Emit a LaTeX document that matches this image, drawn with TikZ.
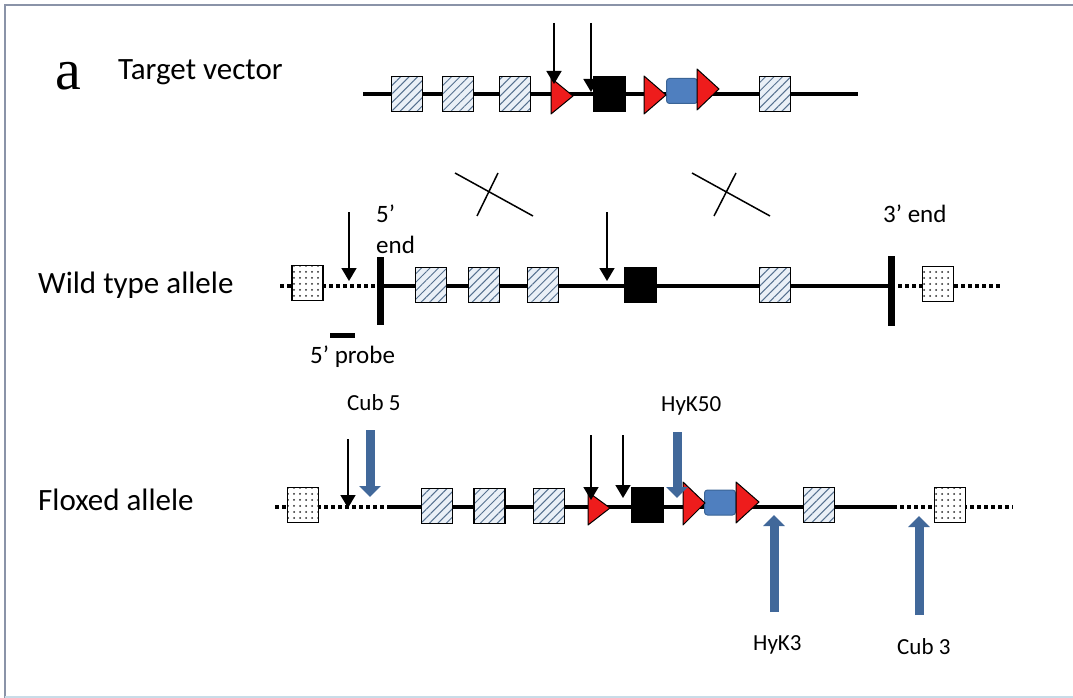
\documentclass[tikz,border=0pt]{standalone}
\usepackage{fontspec}
\setmainfont{Carlito}
\newfontfamily\serifa{Liberation Serif}
\usetikzlibrary{arrows.meta,patterns.meta}
\definecolor{hbg}{HTML}{EAF0F7}
\definecolor{hln}{HTML}{55708F}
\definecolor{arrblue}{HTML}{41689A}
\definecolor{boxblue}{HTML}{4F7FBF}
\definecolor{boxblueb}{HTML}{3A6496}
\definecolor{framec}{HTML}{8A93A8}
\definecolor{framel}{HTML}{C8DCE8}
\definecolor{loxred}{HTML}{EE1C1C}
\begin{document}
\begin{tikzpicture}[x=1pt,y=-1pt,
  hbox/.style={draw, line width=1.2pt, minimum width=31pt, minimum height=35pt, inner sep=0pt,
    preaction={fill=hbg}, pattern={Lines[angle=45,distance=6pt,line width=1pt]}, pattern color=hln},
  dbox/.style={draw, line width=1.2pt, minimum width=31pt, minimum height=35pt, inner sep=0pt,
    preaction={fill=white}, pattern={Dots[distance=6pt,radius=1pt]}, pattern color=black!85},
  kbox/.style={draw, fill=black, line width=1pt, minimum width=32pt, minimum height=35pt, inner sep=0pt},
  bbox/.style={draw=boxblueb, fill=boxblue, line width=1pt, rounded corners=3pt, minimum width=31pt, minimum height=25pt, inner sep=0pt},
  dna/.style={line width=3.5pt},
  dnadot/.style={line width=3.5pt, dash pattern=on 3.5pt off 3.5pt},
  bar/.style={line width=7pt},
  lox/.style={fill=loxred, draw=black, line width=1pt, line join=round},
  karr/.style={line width=1.6pt, -{Triangle[length=13pt,width=15pt]}},
  barr/.style={draw=arrblue, line width=9pt, -{Triangle[length=11pt,width=21pt]}},
  xline/.style={line width=1.5pt},
  biglbl/.style={font=\fontsize{31}{37}\selectfont, inner sep=0pt},
  midlbl/.style={font=\fontsize{25}{31}\selectfont, inner sep=0pt},
  smllbl/.style={font=\fontsize{23}{28}\selectfont, inner sep=0pt}
]
\useasboundingbox[fill=white] (0,0) rectangle (1073,698);
% frame
\draw[framec, line width=2.5pt] (5,698) -- (5,5) -- (1073,5);
\draw[framel, line width=2pt] (5,697) -- (1073,697);

% labels
\node[anchor=base west, inner sep=0pt, font=\serifa\fontsize{58}{60}\selectfont] (lbla) at (55,90) {a};
\node[biglbl, anchor=base west] (ltv) at (118,80) {Target vector};
\node[biglbl, anchor=base west] (lwt) at (38,293) {Wild type allele};
\node[biglbl, anchor=base west] (lfl) at (38,510) {Floxed allele};

% ===== Target vector =====
\draw[dna] (363,94) -- (858,94);
\node[hbox] (t1) at (407,94) {};
\node[hbox] (t2) at (458,94) {};
\node[hbox] (t3) at (515,94) {};
\node[hbox] (t4) at (775,94) {};
\node[kbox] (tk) at (609,94) {};
\node[bbox] (tb) at (682,91) {};
\draw[lox] (551,78) -- (573,96) -- (551,114) -- cycle;
\draw[lox] (644,76) -- (666,95) -- (644,114) -- cycle;
\draw[lox] (697,69) -- (719,89) -- (697,110) -- cycle;
\coordinate (ta1s) at (554,23);
\coordinate (ta1e) at (554,84);
\coordinate (ta2s) at (591,23);
\coordinate (ta2e) at (591,92);
\draw[karr] (ta1s) -- (ta1e);
\draw[karr] (ta2s) -- (ta2e);

% crosses
\draw[xline] (455,173) -- (533,216);
\draw[xline] (498,173) -- (477,216);
\draw[xline] (692,173) -- (770,216);
\draw[xline] (736,173) -- (714,216);

% ===== Wild type =====
\draw[dnadot] (280,286) -- (380,286);
\draw[dna] (380,286) -- (891,286);
\draw[dnadot] (891,286) -- (1000,286);
\draw[bar] (380.5,257) -- (380.5,325);
\draw[bar] (891,256) -- (891,326);
\node[dbox] (w0) at (307.5,283) {};
\node[hbox] (w1) at (431,285) {};
\node[hbox] (w2) at (484,285) {};
\node[hbox] (w3) at (543,285) {};
\node[kbox] (wk) at (640,285) {};
\node[hbox] (w4) at (775,285) {};
\node[dbox] (w5) at (938,284) {};
\coordinate (wa1s) at (349,212);
\coordinate (wa1e) at (349,281);
\coordinate (wa2s) at (607,212);
\coordinate (wa2e) at (607,281);
\draw[karr] (wa1s) -- (wa1e);
\draw[karr] (wa2s) -- (wa2e);
\node[midlbl, anchor=base west] (l5end) at (376,222) {5’};
\node[midlbl, anchor=base west] (l5end2) at (376,253) {end};
\node[midlbl, anchor=base west] (l3end) at (883,222) {3’ end};
\draw[line width=5pt] (330,335) -- (355,335);
\node[midlbl, anchor=base west] (lprobe) at (310,363) {5’ probe};

% ===== Floxed =====
\draw[dnadot] (275,507) -- (388,507);
\draw[dna] (388,507) -- (893,507);
\draw[dnadot] (893,507) -- (1013,507);
\node[dbox] (f0) at (303,505) {};
\node[hbox] (f1) at (437,506) {};
\node[hbox] (f2) at (489.5,506) {};
\node[hbox] (f3) at (549,506) {};
\node[kbox] (fk) at (647,504.5) {};
\node[bbox] (fb) at (720,502.5) {};
\node[hbox] (f4) at (819,505) {};
\node[dbox] (f5) at (950,505) {};
\draw[lox] (588,492) -- (610,508) -- (588,525) -- cycle;
\draw[lox] (683,482) -- (705,503) -- (683,525) -- cycle;
\draw[lox] (736,482) -- (759,502) -- (736,523) -- cycle;
\coordinate (fa1s) at (348,439);
\coordinate (fa1e) at (348,508);
\coordinate (fa2s) at (591,435);
\coordinate (fa2e) at (591,500);
\coordinate (fa3s) at (623,435);
\coordinate (fa3e) at (623,498);
\draw[karr] (fa1s) -- (fa1e);
\draw[karr] (fa2s) -- (fa2e);
\draw[karr] (fa3s) -- (fa3e);

% primers
\node[smllbl, anchor=base west] (lc5) at (347,410) {Cub 5};
\node[smllbl, anchor=base west] (lh50) at (661,411) {HyK50};
\node[smllbl, anchor=base west] (lh3) at (753,650) {HyK3};
\node[smllbl, anchor=base west] (lc3) at (897,654) {Cub 3};
\coordinate (bc5s) at (370,430);
\coordinate (bc5e) at (370,497);
\coordinate (bh50s) at (677,432);
\coordinate (bh50e) at (677,498);
\coordinate (bh3s) at (774,612);
\coordinate (bh3e) at (774,515);
\coordinate (bc3s) at (919,615);
\coordinate (bc3e) at (919,516);
\draw[barr] (bc5s) -- (bc5e);
\draw[barr] (bh50s) -- (bh50e);
\draw[barr] (bh3s) -- (bh3e);
\draw[barr] (bc3s) -- (bc3e);
\end{tikzpicture}
\end{document}
